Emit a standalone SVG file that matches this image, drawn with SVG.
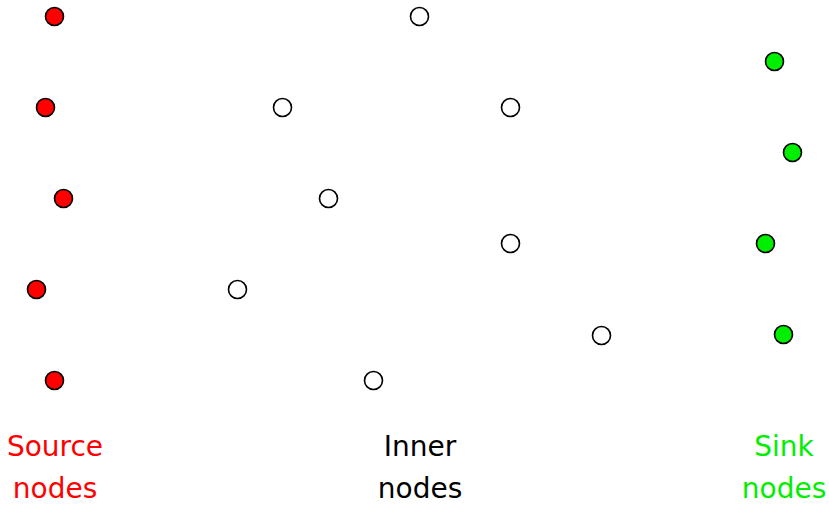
<svg xmlns="http://www.w3.org/2000/svg" width="829" height="505" viewBox="0 0 829 505">
<style>
circle{stroke:#000;stroke-width:1.6}
.src{fill:#ff0000}
.in{fill:#ffffff}
.snk{fill:#00ee00}
text{font-family:"DejaVu Sans","Liberation Sans",sans-serif;font-size:28px;text-anchor:middle}
</style>
<rect width="829" height="505" fill="#fff"/>
<g id="connectors"></g>
<g id="source-nodes">
<g id="s1"><circle class="src" cx="54.5" cy="16.5" r="9"/></g>
<g id="s2"><circle class="src" cx="45.5" cy="107.5" r="9"/></g>
<g id="s3"><circle class="src" cx="63.5" cy="198.5" r="9"/></g>
<g id="s4"><circle class="src" cx="36.5" cy="289.5" r="9"/></g>
<g id="s5"><circle class="src" cx="54.5" cy="380.5" r="9"/></g>
</g>
<g id="inner-nodes">
<g id="i1"><circle class="in" cx="419.5" cy="16.5" r="9"/></g>
<g id="i2"><circle class="in" cx="282.5" cy="107.5" r="9"/></g>
<g id="i3"><circle class="in" cx="510.5" cy="107.5" r="9"/></g>
<g id="i4"><circle class="in" cx="328.5" cy="198.5" r="9"/></g>
<g id="i5"><circle class="in" cx="510.5" cy="243.5" r="9"/></g>
<g id="i6"><circle class="in" cx="237.5" cy="289.5" r="9"/></g>
<g id="i7"><circle class="in" cx="601.5" cy="335.5" r="9"/></g>
<g id="i8"><circle class="in" cx="373.5" cy="380.5" r="9"/></g>
</g>
<g id="sink-nodes">
<g id="k1"><circle class="snk" cx="774.5" cy="61.5" r="9"/></g>
<g id="k2"><circle class="snk" cx="792.5" cy="152.5" r="9"/></g>
<g id="k3"><circle class="snk" cx="765.5" cy="243.5" r="9"/></g>
<g id="k4"><circle class="snk" cx="783.5" cy="334.5" r="9"/></g>
</g>
<g id="labels">
<text x="55" y="456" fill="#ff0000">Source</text>
<text x="55" y="498" fill="#ff0000">nodes</text>
<text x="420" y="456" fill="#000">Inner</text>
<text x="420" y="498" fill="#000">nodes</text>
<text x="784" y="456" fill="#00ee00">Sink</text>
<text x="784" y="498" fill="#00ee00">nodes</text>
</g>
</svg>
